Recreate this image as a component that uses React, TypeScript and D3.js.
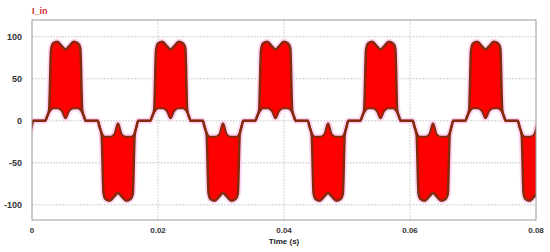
import * as d3 from "d3";

// chart size and plot box
const WIDTH = 550;
const HEIGHT = 252;
const M = { left: 32, right: 536, top: 20, bottom: 220 };

// pulse centres (seconds) - 60 Hz mains
const posCenters = [0.00532, 0.02199, 0.03865, 0.05532, 0.07199];
const negCenters = [-0.00301, 0.01365, 0.03032, 0.04699, 0.06365, 0.08032];

// one pulse, offsets in ms from its centre
const pulseOffsets = [-3.2, -2.95, -2.6, -2.3, -2.0, -1.3, -0.6, 0, 0.6, 1.3, 2.0, 2.35, 2.65, 2.95, 3.2];
const posOuter = [0, 5, 13, 84, 92, 94, 89, 85, 89, 94, 92, 86, 13, 5, 0];
const posInner = [0, 4, 10, 13, 15, 15, 12, 3, 12, 15, 15, 13, 10, 4, 0];
const negOuter = [0, -7, -17, -86, -93, -95, -90, -86, -90, -95, -93, -87, -17, -7, 0];
const negInner = [0, -6, -14, -18, -19, -19, -16, -3, -16, -19, -19, -18, -14, -6, 0];

const yTicks = [100, 50, 0, -50, -100];
const xTicks = [0, 0.02, 0.04, 0.06, 0.08];

type Pt = { t: number; hi: number; lo: number };

function buildSeries(): Pt[] {
  const pts: Pt[] = [];
  posCenters.forEach((c) =>
    pulseOffsets.forEach((o, i) => pts.push({ t: c + o / 1000, hi: posOuter[i], lo: posInner[i] }))
  );
  negCenters.forEach((c) =>
    pulseOffsets.forEach((o, i) => pts.push({ t: c + o / 1000, hi: negOuter[i], lo: negInner[i] }))
  );
  return pts.sort((a, b) => a.t - b.t);
}

export default function App() {
  const x = d3.scaleLinear().domain([0, 0.08]).range([M.left, M.right]);
  const y = d3.scaleLinear().domain([-118, 120]).range([M.bottom, M.top]);
  const data = buildSeries();

  const area = d3
    .area<Pt>()
    .x((d) => x(d.t))
    .y0((d) => y(d.lo))
    .y1((d) => y(d.hi))
    .curve(d3.curveMonotoneX);
  const outer = d3.line<Pt>().x((d) => x(d.t)).y((d) => y(d.hi)).curve(d3.curveMonotoneX);
  const inner = d3.line<Pt>().x((d) => x(d.t)).y((d) => y(d.lo)).curve(d3.curveMonotoneX);

  const font = "'Liberation Sans', Arial, sans-serif";

  return (
    <svg
      width={WIDTH}
      height={HEIGHT}
      style={{ position: "absolute", left: 0, top: 0, background: "#fff" }}
    >
      <defs>
        <clipPath id="plot">
          <rect x={M.left} y={M.top} width={M.right - M.left} height={M.bottom - M.top} />
        </clipPath>
      </defs>

      {/* grid */}
      {yTicks.map((v) => (
        <line key={"gy" + v} x1={M.left} x2={M.right} y1={y(v)} y2={y(v)}
          stroke="#cfcfcf" strokeWidth={1} strokeDasharray="2,1" />
      ))}
      {xTicks.slice(1, -1).map((v) => (
        <line key={"gx" + v} x1={x(v)} x2={x(v)} y1={M.top} y2={M.bottom}
          stroke="#d4d4d4" strokeWidth={1} strokeDasharray="2,1" />
      ))}

      <g clipPath="url(#plot)">
        <path d={area(data) ?? ""} fill="none" stroke="#ffd4f3" strokeWidth={6} strokeLinejoin="round" />
        <path d={area(data) ?? ""} fill="#ff0000" />
        <path d={inner(data) ?? ""} fill="none" stroke="#832b0c" strokeWidth={2} />
        <path d={outer(data) ?? ""} fill="none" stroke="#832b0c" strokeWidth={2.5} />
      </g>

      <rect x={M.left} y={M.top} width={M.right - M.left} height={M.bottom - M.top}
        fill="none" stroke="#9a9a9a" strokeWidth={1} />

      {yTicks.map((v) => (
        <text key={"ty" + v} x={22} y={y(v)} dy="0.35em" textAnchor="end"
          fontFamily={font} fontSize={9} fontWeight="bold" fill="#333">
          {v}
        </text>
      ))}
      {xTicks.map((v) => (
        <text key={"tx" + v} x={x(v)} y={230} dy="0.35em" textAnchor="middle"
          fontFamily={font} fontSize={8} fontWeight="bold" fill="#333">
          {v === 0 ? "0" : d3.format(".2f")(v)}
        </text>
      ))}
      <text x={x(0.04)} y={241} dy="0.35em" textAnchor="middle"
        fontFamily={font} fontSize={8} fontWeight="bold" fill="#222">
        Time (s)
      </text>
      <text x={32} y={11} dy="0.35em" fontFamily={font} fontSize={9} fontWeight="bold" fill="#d23030">
        I_in
      </text>
    </svg>
  );
}
